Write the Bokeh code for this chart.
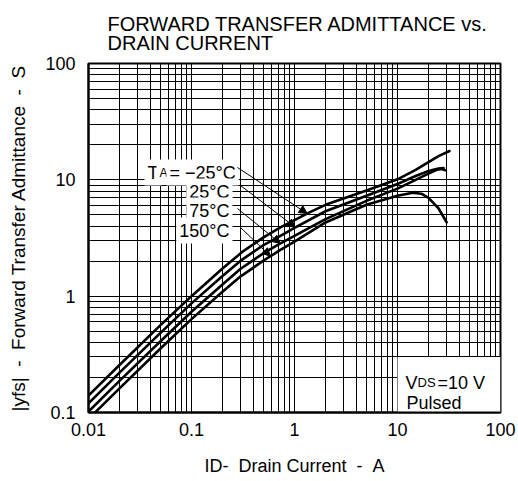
import numpy as np
from bokeh.plotting import figure
from bokeh.models import FixedTicker, Label, Arrow, NormalHead, Range1d
from bokeh.embed import file_html
from bokeh.resources import INLINE

# ---------------- data ----------------
current_m25 = [0.01, 0.02, 0.05, 0.1, 0.2, 0.311, 0.5, 0.73, 1, 1.43, 2, 5, 10, 15, 20, 25, 32]
yfs_m25 = [0.14, 0.256, 0.563, 1.0, 1.73, 2.4, 3.2, 3.9, 4.5, 5.3, 6.1, 8.1, 10.1, 12.2, 14.2, 16.0, 17.7]

current_25 = [0.01, 0.02, 0.05, 0.1, 0.2, 0.3, 0.5, 0.73, 1, 2, 5, 10, 15, 20, 25, 28]
yfs_25 = [0.12, 0.22, 0.484, 0.867, 1.49, 2.02, 2.75, 3.3, 3.87, 5.37, 7.3, 9.2, 10.8, 11.9, 12.5, 12.6]

current_75 = [0.01, 0.02, 0.05, 0.1, 0.2, 0.3, 0.5, 0.73, 1, 2, 5, 10, 15, 20, 24, 27, 29]
yfs_75 = [0.102, 0.187, 0.41, 0.735, 1.26, 1.72, 2.34, 2.84, 3.3, 4.6, 6.6, 8.4, 10.0, 11.3, 12.2, 12.4, 12.1]

current_150 = [0.01, 0.02, 0.05, 0.1, 0.2, 0.3, 0.5, 0.73, 1, 2, 5, 10, 14, 17, 20, 25, 30]
yfs_150 = [0.088, 0.161, 0.355, 0.635, 1.09, 1.48, 2.02, 2.5, 2.95, 4.3, 6.1, 7.3, 7.75, 7.6, 7.0, 5.7, 4.3]

x_tick_values = [0.01, 0.1, 1, 10, 100]
x_tick_labels = ["0.01", "0.1", "1", "10", "100"]
y_tick_values = [0.1, 1, 10, 100]
y_tick_labels = ["0.1", "1", "10", "100"]
grid_mantissas = [1, 2, 3, 4, 5, 6, 7, 8, 9]

temp_labels = ["TA = \u221225\u00b0C", "25\u00b0C", "75\u00b0C", "150\u00b0C"]
arrow_tip_currents = [1.33, 1.02, 0.73, 0.585]

X0, X1 = 0.01, 100
Y0, Y1 = 0.1, 100

NB = "\u00a0"

# ---------------- layout helpers (picture pixels -> data) ----------------
FL, FT, FW, FH = 88, 63, 412, 349


def xd(px):
    return 10 ** (np.log10(X0) + (px - FL) / FW * np.log10(X1 / X0))


def yd(py):
    return 10 ** (np.log10(Y1) - (py - FT) / FH * np.log10(Y1 / Y0))


FONT = "Liberation Sans"

p = figure(x_axis_type="log", y_axis_type="log",
           x_range=Range1d(X0, X1), y_range=Range1d(Y0, Y1),
           frame_width=FW, frame_height=FH,
           min_border_left=FL, min_border_top=FT, min_border_right=16, min_border_bottom=66,
           output_backend="svg", toolbar_location=None)
p.background_fill_color = "white"
p.border_fill_color = "white"
p.outline_line_color = "black"
p.outline_line_width = 2

# title (two lines)
p.title.text = "FORWARD TRANSFER ADMITTANCE vs.\nDRAIN CURRENT"
p.title.align = "left"
p.title.offset = 19
p.title.standoff = 19
p.title.text_font = FONT
p.title.text_font_size = "20px"
p.title.text_font_style = "normal"
p.title.text_color = "black"
p.title.text_line_height = 0.88

# grid
xg = [m * 10.0 ** e for e in range(-2, 2) for m in grid_mantissas] + [100]
yg = [m * 10.0 ** e for e in range(-1, 2) for m in grid_mantissas] + [100]
p.xgrid.ticker = FixedTicker(ticks=xg)
p.ygrid.ticker = FixedTicker(ticks=yg)
for g in (p.xgrid, p.ygrid):
    g.grid_line_color = "black"
    g.grid_line_width = 1
    g.grid_line_alpha = 1
    g.minor_grid_line_color = None

# axes
p.xaxis.ticker = FixedTicker(ticks=x_tick_values)
p.yaxis.ticker = FixedTicker(ticks=y_tick_values)
p.xaxis.major_label_overrides = {v: s for v, s in zip(x_tick_values, x_tick_labels)}
p.yaxis.major_label_overrides = {v: s for v, s in zip(y_tick_values, y_tick_labels)}
for ax in (p.xaxis, p.yaxis):
    ax.axis_line_color = "black"
    ax.axis_line_width = 2
    ax.major_tick_line_color = None
    ax.minor_tick_line_color = None
    ax.major_label_text_font = FONT
    ax.major_label_text_font_size = "18px"
    ax.major_label_text_color = "black"
    ax.axis_label_text_font = FONT
    ax.axis_label_text_font_style = "normal"
    ax.axis_label_text_color = "black"
p.xaxis.axis_label_text_font_size = "18px"
p.yaxis.axis_label_text_font_size = "19px"
p.xaxis.major_label_standoff = 4
p.yaxis.major_label_standoff = 7
p.xaxis.axis_label = "ID-" + NB * 2 + "Drain Current" + NB * 2 + "-" + NB * 2 + "A"
p.yaxis.axis_label = "|yfs|" + NB * 2 + "-" + NB * 2 + "Forward Transfer Admittance" + NB * 2 + "-" + NB * 2 + "S"
p.xaxis.axis_label_standoff = 17
p.yaxis.axis_label_standoff = 13

# conditions box
p.quad(left=[10], right=[100], bottom=[0.1], top=[0.3], fill_color="white", line_color=None)

# curves
series = [(current_m25, yfs_m25), (current_25, yfs_25), (current_75, yfs_75), (current_150, yfs_150)]
for xs, ys in series:
    p.line(xs, ys, line_width=2.6, line_color="black", line_join="round", line_cap="round")

# temperature labels + leaders
label_base = [172, 191, 210, 230]
starts = [(237, 167), (240, 185), (237, 208), (240, 227)]
for i, (txt, base) in enumerate(zip(temp_labels, label_base)):
    if i == 0:
        pieces = [("T", 144, "18px"), ("A", 156, "12px"), ("= \u221225\u00b0C", 166, "18px")]
        for t, px, fs in pieces:
            p.add_layout(Label(x=xd(px), y=yd(base), text=t, text_align="left",
                               text_baseline="alphabetic", text_font=FONT, text_font_size=fs,
                               text_color="black", background_fill_color="white", padding=3))
    else:
        p.add_layout(Label(x=xd(232), y=yd(base), text=txt, text_align="right",
                           text_baseline="alphabetic", text_font=FONT, text_font_size="18px",
                           text_color="black", background_fill_color="white", padding=3))
    xs, ys = series[i]
    tx = arrow_tip_currents[i]
    ty = 10 ** np.interp(np.log10(tx), np.log10(xs), np.log10(ys))
    sx, sy = starts[i]
    p.add_layout(Arrow(end=NormalHead(size=8, fill_color="black", line_color="black", line_width=1),
                       x_start=xd(sx), y_start=yd(sy), x_end=tx, y_end=ty,
                       line_color="black", line_width=1))

# conditions text
cond = [("V", 405, 382, "18px"), ("DS", 417, 382, "13px"), ("=10" + NB + "V", 437, 382, "18px"),
        ("Pulsed", 406, 402, "18px")]
for t, px, py, fs in cond:
    p.add_layout(Label(x=xd(px), y=yd(py), text=t, text_align="left", text_baseline="alphabetic",
                       text_font=FONT, text_font_size=fs, text_color="black"))

open("out.html", "w").write(file_html(p, INLINE))
